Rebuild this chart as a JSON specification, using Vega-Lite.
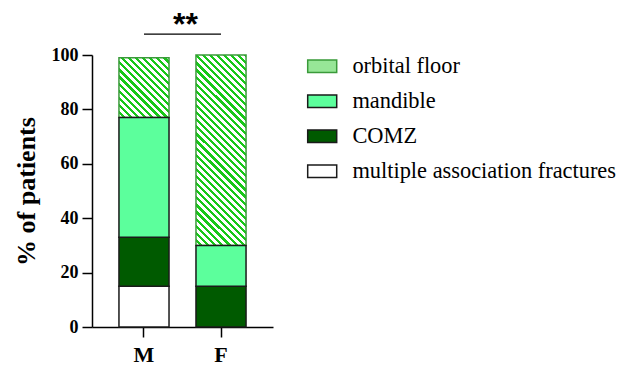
{
  "$schema": "https://vega.github.io/schema/vega-lite/v6.json",
  "width": 181,
  "height": 272,
  "autosize": {"type": "none"},
  "padding": {"left": 92, "top": 55, "right": 344, "bottom": 40},
  "background": "white",
  "datasets": {
    "frac": [
      {"sex": "M", "site": "multiple association fractures", "pct": 15},
      {"sex": "M", "site": "COMZ", "pct": 18},
      {"sex": "M", "site": "mandible", "pct": 44},
      {"sex": "M", "site": "orbital floor", "pct": 22},
      {"sex": "F", "site": "COMZ", "pct": 15},
      {"sex": "F", "site": "mandible", "pct": 15},
      {"sex": "F", "site": "orbital floor", "pct": 70}
    ],
    "sig": [{"from": "M", "to": "F", "level": 107.7, "label": "**"}]
  },
  "layer": [
    {
      "data": {"name": "frac"},
      "transform": [
        {"stack": "pct", "groupby": ["sex"], "as": ["y0", "y1"]},
        {"filter": "datum.site === 'orbital floor' && datum.sex === 'F'"}
      ],
      "mark": {"type": "bar", "stroke": "#3a9a3a", "strokeWidth": 1.5,
        "fill": {"gradient": "linear", "x1": 0, "y1": 1, "x2": 0.3115, "y2": -0.186, "stops": [
{"offset":0,"color":"#ffffff"},{"offset":0.0162,"color":"#ffffff"},{"offset":0.0162,"color":"#18c818"},{"offset":0.0294,"color":"#18c818"},
{"offset":0.0294,"color":"#ffffff"},{"offset":0.0456,"color":"#ffffff"},{"offset":0.0456,"color":"#18c818"},{"offset":0.0588,"color":"#18c818"},
{"offset":0.0588,"color":"#ffffff"},{"offset":0.0750,"color":"#ffffff"},{"offset":0.0750,"color":"#18c818"},{"offset":0.0882,"color":"#18c818"},
{"offset":0.0882,"color":"#ffffff"},{"offset":0.1044,"color":"#ffffff"},{"offset":0.1044,"color":"#18c818"},{"offset":0.1176,"color":"#18c818"},
{"offset":0.1176,"color":"#ffffff"},{"offset":0.1338,"color":"#ffffff"},{"offset":0.1338,"color":"#18c818"},{"offset":0.1471,"color":"#18c818"},
{"offset":0.1471,"color":"#ffffff"},{"offset":0.1632,"color":"#ffffff"},{"offset":0.1632,"color":"#18c818"},{"offset":0.1765,"color":"#18c818"},
{"offset":0.1765,"color":"#ffffff"},{"offset":0.1926,"color":"#ffffff"},{"offset":0.1926,"color":"#18c818"},{"offset":0.2059,"color":"#18c818"},
{"offset":0.2059,"color":"#ffffff"},{"offset":0.2221,"color":"#ffffff"},{"offset":0.2221,"color":"#18c818"},{"offset":0.2353,"color":"#18c818"},
{"offset":0.2353,"color":"#ffffff"},{"offset":0.2515,"color":"#ffffff"},{"offset":0.2515,"color":"#18c818"},{"offset":0.2647,"color":"#18c818"},
{"offset":0.2647,"color":"#ffffff"},{"offset":0.2809,"color":"#ffffff"},{"offset":0.2809,"color":"#18c818"},{"offset":0.2941,"color":"#18c818"},
{"offset":0.2941,"color":"#ffffff"},{"offset":0.3103,"color":"#ffffff"},{"offset":0.3103,"color":"#18c818"},{"offset":0.3235,"color":"#18c818"},
{"offset":0.3235,"color":"#ffffff"},{"offset":0.3397,"color":"#ffffff"},{"offset":0.3397,"color":"#18c818"},{"offset":0.3529,"color":"#18c818"},
{"offset":0.3529,"color":"#ffffff"},{"offset":0.3691,"color":"#ffffff"},{"offset":0.3691,"color":"#18c818"},{"offset":0.3824,"color":"#18c818"},
{"offset":0.3824,"color":"#ffffff"},{"offset":0.3985,"color":"#ffffff"},{"offset":0.3985,"color":"#18c818"},{"offset":0.4118,"color":"#18c818"},
{"offset":0.4118,"color":"#ffffff"},{"offset":0.4279,"color":"#ffffff"},{"offset":0.4279,"color":"#18c818"},{"offset":0.4412,"color":"#18c818"},
{"offset":0.4412,"color":"#ffffff"},{"offset":0.4574,"color":"#ffffff"},{"offset":0.4574,"color":"#18c818"},{"offset":0.4706,"color":"#18c818"},
{"offset":0.4706,"color":"#ffffff"},{"offset":0.4868,"color":"#ffffff"},{"offset":0.4868,"color":"#18c818"},{"offset":0.5,"color":"#18c818"},
{"offset":0.5,"color":"#ffffff"},{"offset":0.5162,"color":"#ffffff"},{"offset":0.5162,"color":"#18c818"},{"offset":0.5294,"color":"#18c818"},
{"offset":0.5294,"color":"#ffffff"},{"offset":0.5456,"color":"#ffffff"},{"offset":0.5456,"color":"#18c818"},{"offset":0.5588,"color":"#18c818"},
{"offset":0.5588,"color":"#ffffff"},{"offset":0.5750,"color":"#ffffff"},{"offset":0.5750,"color":"#18c818"},{"offset":0.5882,"color":"#18c818"},
{"offset":0.5882,"color":"#ffffff"},{"offset":0.6044,"color":"#ffffff"},{"offset":0.6044,"color":"#18c818"},{"offset":0.6176,"color":"#18c818"},
{"offset":0.6176,"color":"#ffffff"},{"offset":0.6338,"color":"#ffffff"},{"offset":0.6338,"color":"#18c818"},{"offset":0.6471,"color":"#18c818"},
{"offset":0.6471,"color":"#ffffff"},{"offset":0.6632,"color":"#ffffff"},{"offset":0.6632,"color":"#18c818"},{"offset":0.6765,"color":"#18c818"},
{"offset":0.6765,"color":"#ffffff"},{"offset":0.6926,"color":"#ffffff"},{"offset":0.6926,"color":"#18c818"},{"offset":0.7059,"color":"#18c818"},
{"offset":0.7059,"color":"#ffffff"},{"offset":0.7221,"color":"#ffffff"},{"offset":0.7221,"color":"#18c818"},{"offset":0.7353,"color":"#18c818"},
{"offset":0.7353,"color":"#ffffff"},{"offset":0.7515,"color":"#ffffff"},{"offset":0.7515,"color":"#18c818"},{"offset":0.7647,"color":"#18c818"},
{"offset":0.7647,"color":"#ffffff"},{"offset":0.7809,"color":"#ffffff"},{"offset":0.7809,"color":"#18c818"},{"offset":0.7941,"color":"#18c818"},
{"offset":0.7941,"color":"#ffffff"},{"offset":0.8103,"color":"#ffffff"},{"offset":0.8103,"color":"#18c818"},{"offset":0.8235,"color":"#18c818"},
{"offset":0.8235,"color":"#ffffff"},{"offset":0.8397,"color":"#ffffff"},{"offset":0.8397,"color":"#18c818"},{"offset":0.8529,"color":"#18c818"},
{"offset":0.8529,"color":"#ffffff"},{"offset":0.8691,"color":"#ffffff"},{"offset":0.8691,"color":"#18c818"},{"offset":0.8824,"color":"#18c818"},
{"offset":0.8824,"color":"#ffffff"},{"offset":0.8985,"color":"#ffffff"},{"offset":0.8985,"color":"#18c818"},{"offset":0.9118,"color":"#18c818"},
{"offset":0.9118,"color":"#ffffff"},{"offset":0.9279,"color":"#ffffff"},{"offset":0.9279,"color":"#18c818"},{"offset":0.9412,"color":"#18c818"},
{"offset":0.9412,"color":"#ffffff"},{"offset":0.9574,"color":"#ffffff"},{"offset":0.9574,"color":"#18c818"},{"offset":0.9706,"color":"#18c818"},
{"offset":0.9706,"color":"#ffffff"},{"offset":0.9868,"color":"#ffffff"},{"offset":0.9868,"color":"#18c818"},{"offset":1,"color":"#18c818"}
        ]}
      },
      "encoding": {
        "x": {"field": "sex", "type": "nominal", "scale": {"domain": ["M", "F"], "paddingInner": 0.35, "paddingOuter": 0.35}, "title": null},
        "y": {"field": "y0", "type": "quantitative", "scale": {"domain": [0, 100]}, "title": "% of patients", "axis": {"values": [0, 20, 40, 60, 80, 100]}},
        "y2": {"field": "y1"}
      }
    },
    {
      "data": {"name": "frac"},
      "transform": [
        {"stack": "pct", "groupby": ["sex"], "as": ["y0", "y1"]},
        {"filter": "datum.site === 'orbital floor' && datum.sex === 'M'"}
      ],
      "mark": {"type": "bar", "stroke": "#3a9a3a", "strokeWidth": 1.5,
        "fill": {"gradient": "linear", "x1": 0, "y1": 1, "x2": 1.9865, "y2": -1.3759, "stops": [
{"offset":0,"color":"#ffffff"},{"offset":0.0162,"color":"#ffffff"},{"offset":0.0162,"color":"#18c818"},{"offset":0.0294,"color":"#18c818"},
{"offset":0.0294,"color":"#ffffff"},{"offset":0.0456,"color":"#ffffff"},{"offset":0.0456,"color":"#18c818"},{"offset":0.0588,"color":"#18c818"},
{"offset":0.0588,"color":"#ffffff"},{"offset":0.0750,"color":"#ffffff"},{"offset":0.0750,"color":"#18c818"},{"offset":0.0882,"color":"#18c818"},
{"offset":0.0882,"color":"#ffffff"},{"offset":0.1044,"color":"#ffffff"},{"offset":0.1044,"color":"#18c818"},{"offset":0.1176,"color":"#18c818"},
{"offset":0.1176,"color":"#ffffff"},{"offset":0.1338,"color":"#ffffff"},{"offset":0.1338,"color":"#18c818"},{"offset":0.1471,"color":"#18c818"},
{"offset":0.1471,"color":"#ffffff"},{"offset":0.1632,"color":"#ffffff"},{"offset":0.1632,"color":"#18c818"},{"offset":0.1765,"color":"#18c818"},
{"offset":0.1765,"color":"#ffffff"},{"offset":0.1926,"color":"#ffffff"},{"offset":0.1926,"color":"#18c818"},{"offset":0.2059,"color":"#18c818"},
{"offset":0.2059,"color":"#ffffff"},{"offset":0.2221,"color":"#ffffff"},{"offset":0.2221,"color":"#18c818"},{"offset":0.2353,"color":"#18c818"},
{"offset":0.2353,"color":"#ffffff"},{"offset":0.2515,"color":"#ffffff"},{"offset":0.2515,"color":"#18c818"},{"offset":0.2647,"color":"#18c818"},
{"offset":0.2647,"color":"#ffffff"},{"offset":0.2809,"color":"#ffffff"},{"offset":0.2809,"color":"#18c818"},{"offset":0.2941,"color":"#18c818"},
{"offset":0.2941,"color":"#ffffff"},{"offset":0.3103,"color":"#ffffff"},{"offset":0.3103,"color":"#18c818"},{"offset":0.3235,"color":"#18c818"},
{"offset":0.3235,"color":"#ffffff"},{"offset":0.3397,"color":"#ffffff"},{"offset":0.3397,"color":"#18c818"},{"offset":0.3529,"color":"#18c818"},
{"offset":0.3529,"color":"#ffffff"},{"offset":0.3691,"color":"#ffffff"},{"offset":0.3691,"color":"#18c818"},{"offset":0.3824,"color":"#18c818"},
{"offset":0.3824,"color":"#ffffff"},{"offset":0.3985,"color":"#ffffff"},{"offset":0.3985,"color":"#18c818"},{"offset":0.4118,"color":"#18c818"},
{"offset":0.4118,"color":"#ffffff"},{"offset":0.4279,"color":"#ffffff"},{"offset":0.4279,"color":"#18c818"},{"offset":0.4412,"color":"#18c818"},
{"offset":0.4412,"color":"#ffffff"},{"offset":0.4574,"color":"#ffffff"},{"offset":0.4574,"color":"#18c818"},{"offset":0.4706,"color":"#18c818"},
{"offset":0.4706,"color":"#ffffff"},{"offset":0.4868,"color":"#ffffff"},{"offset":0.4868,"color":"#18c818"},{"offset":0.5,"color":"#18c818"}
        ]}
      },
      "encoding": {
        "x": {"field": "sex", "type": "nominal", "title": null},
        "y": {"field": "y0", "type": "quantitative", "title": "% of patients"},
        "y2": {"field": "y1"}
      }
    },
    {
      "data": {"name": "frac"},
      "transform": [
        {"stack": "pct", "groupby": ["sex"], "as": ["y0", "y1"]},
        {"filter": "datum.site !== 'orbital floor'"}
      ],
      "mark": {"type": "bar", "strokeWidth": 1.5},
      "encoding": {
        "x": {"field": "sex", "type": "nominal", "title": null},
        "y": {"field": "y0", "type": "quantitative", "title": "% of patients"},
        "y2": {"field": "y1"},
        "color": {
          "field": "site", "type": "nominal",
          "scale": {"domain": ["orbital floor", "mandible", "COMZ", "multiple association fractures"], "range": ["#97e697", "#5cff9c", "#005a00", "#ffffff"]},
          "legend": {"title": null}
        },
        "stroke": {
          "field": "site", "type": "nominal",
          "scale": {"domain": ["orbital floor", "mandible", "COMZ", "multiple association fractures"], "range": ["#3a9a3a", "#1a1a1a", "#1a1a1a", "#1a1a1a"]},
          "legend": {"title": null}
        }
      }
    },
    {
      "data": {"name": "sig"},
      "mark": {"type": "rule", "color": "#000", "strokeWidth": 1.2},
      "encoding": {
        "x": {"field": "from", "type": "nominal", "title": null},
        "x2": {"field": "to"},
        "y": {"field": "level", "type": "quantitative", "title": "% of patients"}
      }
    },
    {
      "data": {"name": "sig"},
      "mark": {"type": "text", "font": "Liberation Sans", "fontSize": 32, "fontWeight": "bold", "color": "#000", "align": "center", "baseline": "alphabetic", "dy": 1},
      "encoding": {
        "x": {"field": "from", "type": "nominal", "bandPosition": 1.33, "title": null},
        "y": {"field": "level", "type": "quantitative", "title": "% of patients"},
        "text": {"field": "label"}
      }
    }
  ],
  "config": {
    "view": {"stroke": null},
    "legend": {
      "orient": "right", "offset": 38,
      "symbolType": "M-1.5,-0.647H1.5V0.647H-1.5Z", "symbolSize": 374,
      "symbolStrokeWidth": 1.5, "symbolOpacity": 1,
      "labelFont": "Liberation Serif", "labelFontSize": 22.4, "labelColor": "#000",
      "labelOffset": 19, "rowPadding": 12, "labelLimit": 400
    },
    "axis": {
      "domainColor": "#000", "domainWidth": 1.5, "tickColor": "#000", "tickWidth": 1.5, "tickSize": 10,
      "labelFont": "Liberation Serif", "labelFontWeight": "bold", "labelColor": "#000", "grid": false,
      "titleFont": "Liberation Serif", "titleFontWeight": "bold", "titleColor": "#000"
    },
    "axisY": {"labelFontSize": 18, "labelPadding": 4, "titleFontSize": 26, "titlePadding": 12},
    "axisX": {"labelFontSize": 22, "labelPadding": 7, "labelAngle": 0}
  }
}
